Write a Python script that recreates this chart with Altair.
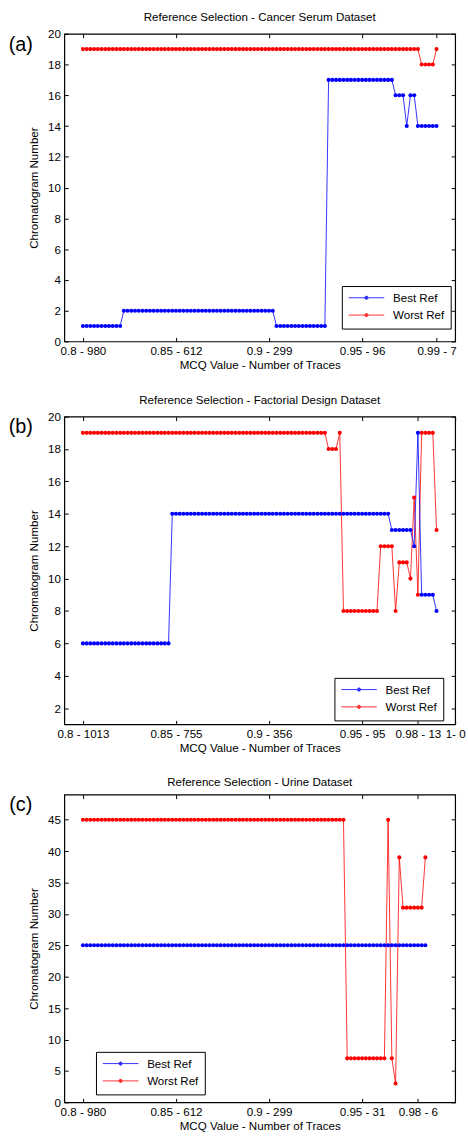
import altair as alt
import numpy as np
import pandas as pd

FONT = "Liberation Sans"
FS = 11.7
BLUE = "#0000ff"
RED = "#ff0000"

# MCQ thresholds are sampled on a regular grid starting at 0.80
MCQ_START = 0.80
MCQ_STEP = 0.002

# Chromatogram chosen as reference, run-length encoded: (chromatogram, consecutive MCQ steps)
cancer_best = [(1, 11), (2, 41), (1, 14), (17, 18), (16, 3), (14, 1), (16, 2), (14, 6)]
cancer_worst = [(19, 91), (18, 4), (19, 1)]
factorial_best = [(6, 24), (14, 59), (13, 6), (12, 1), (19, 1), (9, 4), (8, 1)]
factorial_worst = [(19, 66), (18, 3), (19, 1), (8, 10), (12, 4), (8, 1), (11, 3),
                   (10, 1), (15, 1), (9, 1), (19, 4), (13, 1)]
urine_best = [(25, 93)]
urine_worst = [(45, 71), (7, 11), (45, 1), (7, 1), (3, 1), (39, 1), (31, 6), (39, 1)]

# x tick positions and their "MCQ - number of traces" labels
cancer_ticks = [0.8, 0.85, 0.9, 0.95, 0.99]
cancer_tick_labels = ["0.8 - 980", "0.85 - 612", "0.9 - 299", "0.95 - 96", "0.99 - 7"]
factorial_ticks = [0.8, 0.85, 0.9, 0.95, 0.98, 1.0]
factorial_tick_labels = ["0.8 - 1013", "0.85 - 755", "0.9 - 356", "0.95 - 95", "0.98 - 13", "1- 0"]
urine_ticks = [0.8, 0.85, 0.9, 0.95, 0.98]
urine_tick_labels = ["0.8 - 980", "0.85 - 612", "0.9 - 299", "0.95 - 31", "0.98 - 6"]

SERIES = ["Best Ref", "Worst Ref"]

W, H = 395, 311
TICK = 4

# legend glyph: a line with a filled dot in the middle (dot built from concentric rings)
_cx = 2.6
LEGEND_GLYPH = "M-1,0L6.2,0" + "".join(
    f"M{_cx - r:.2f},0A{r},{r} 0 1,0 {_cx + r:.2f},0A{r},{r} 0 1,0 {_cx - r:.2f},0"
    for r in (0.08, 0.16, 0.24, 0.32)
)


def expand(runs, name):
    ys = []
    for value, count in runs:
        ys.extend([value] * count)
    mcq = np.round(MCQ_START + MCQ_STEP * np.arange(len(ys)), 4)
    return pd.DataFrame({"mcq": mcq, "chrom": ys, "series": name})


def label_expr(ticks, labels):
    expr = "''"
    for v, lab in reversed(list(zip(ticks, labels))):
        expr = f"abs(datum.value - {v}) < 1e-6 ? '{lab}' : ({expr})"
    return expr


def panel(tag, title, best, worst, xticks, xlabels, ydomain, yticks, legend_xy):
    df = pd.concat([expand(worst, "Worst Ref"), expand(best, "Best Ref")], ignore_index=True)
    xscale = alt.Scale(domain=[0.79, 1.0], nice=False, zero=False)
    yscale = alt.Scale(domain=ydomain, nice=False, zero=False)
    color_scale = alt.Scale(domain=SERIES, range=[BLUE, RED])

    base = alt.Chart(df)

    lines = base.mark_line(strokeWidth=1, opacity=0.8).encode(
        x=alt.X("mcq:Q", scale=xscale, axis=alt.Axis(
            orient="bottom", values=xticks, labelExpr=label_expr(xticks, xlabels),
            title="MCQ Value - Number of Traces", offset=-TICK, tickSize=TICK,
            domain=False, grid=False, labelPadding=4, labelFlush=False,
            labelOverlap=False, titlePadding=3)),
        y=alt.Y("chrom:Q", scale=yscale, axis=alt.Axis(
            orient="left", values=yticks, title="Chromatogram Number",
            offset=-TICK, tickSize=TICK, domain=False, grid=False,
            labelPadding=4, titlePadding=8)),
        color=alt.Color("series:N", scale=color_scale, sort=SERIES, legend=alt.Legend(
            orient="none", legendX=legend_xy[0], legendY=legend_xy[1], title=None,
            symbolType=LEGEND_GLYPH, symbolSize=100, symbolStrokeWidth=1,
            labelOffset=34, padding=6, rowPadding=4.5,
            strokeColor="black", fillColor="white")),
        detail="series:N",
    )

    points = base.mark_point(filled=True, size=17, opacity=1).encode(
        x=alt.X("mcq:Q", scale=xscale, axis=None),
        y=alt.Y("chrom:Q", scale=yscale, axis=None),
        color=alt.Color("series:N", scale=color_scale, legend=None),
    )

    # inward ticks on the top and right edges of the box
    box_ticks = base.mark_point(opacity=0).encode(
        x=alt.X("mcq:Q", scale=xscale, axis=alt.Axis(
            orient="top", values=xticks, labels=False, title=None, offset=-TICK,
            tickSize=TICK, domain=False, grid=False)),
        y=alt.Y("chrom:Q", scale=yscale, axis=alt.Axis(
            orient="right", values=yticks, labels=False, title=None, offset=-TICK,
            tickSize=TICK, domain=False, grid=False)),
    )

    tag_text = alt.Chart(pd.DataFrame({"tag": [tag]})).mark_text(
        font=FONT, fontSize=20, align="center", baseline="middle", color="black"
    ).encode(text="tag:N", x=alt.value(-44), y=alt.value(11))

    return alt.layer(lines, points, box_ticks, tag_text).resolve_axis(
        x="independent", y="independent"
    ).properties(
        width=W, height=H,
        title=alt.TitleParams(text=title, font=FONT, fontSize=FS, fontWeight="normal",
                              color="black", anchor="middle", frame="group", offset=5),
    )


a = panel("(a)", "Reference Selection - Cancer Serum Dataset", cancer_best, cancer_worst,
          cancer_ticks, cancer_tick_labels, [0, 20], list(range(0, 21, 2)), (280.5, 255))
b = panel("(b)", "Reference Selection - Factorial Design Dataset", factorial_best, factorial_worst,
          factorial_ticks, factorial_tick_labels, [1, 20], list(range(2, 21, 2)), (273, 264))
c = panel("(c)", "Reference Selection - Urine Dataset", urine_best, urine_worst,
          urine_ticks, urine_tick_labels, [0, 49], list(range(0, 46, 5)), (32, 260))

chart = alt.vconcat(a, b, c, spacing=22).resolve_scale(
    color="independent"
).resolve_legend(
    color="independent"
).properties(
    padding={"left": 8, "top": 5, "right": 2, "bottom": 2}
).configure(
    font=FONT,
).configure_view(
    stroke="black", strokeWidth=1.2,
).configure_axis(
    labelFont=FONT, labelFontSize=FS, labelColor="black",
    titleFont=FONT, titleFontSize=FS, titleFontWeight="normal", titleColor="black",
    tickColor="black", tickWidth=1,
).configure_legend(
    labelFont=FONT, labelFontSize=FS, labelColor="black",
)

chart.save("out.html", embed_options={"renderer": "svg", "actions": False})
